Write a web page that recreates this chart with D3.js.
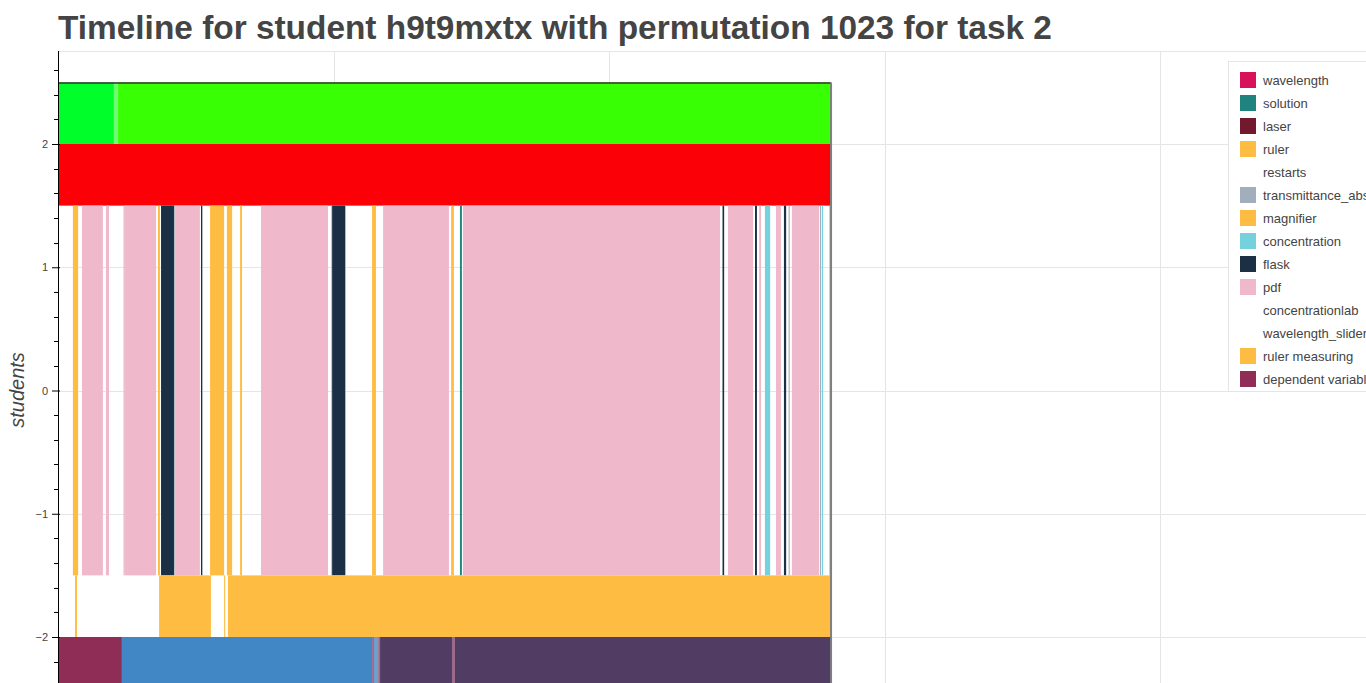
<!DOCTYPE html>
<html>
<head>
<meta charset="utf-8">
<script src="https://cdn.jsdelivr.net/npm/d3@7/dist/d3.min.js"></script>
<style>
  html, body { margin: 0; padding: 0; background: #fff; overflow: hidden; }
  svg { display: block; }
</style>
</head>
<body>
<svg id="chart" width="1366" height="683"></svg>
<script>
// ---------------- DATA ----------------
const titleText = "Timeline for student h9t9mxtx with permutation 1023 for task 2";
const yLabel = "students";
const yTicks = [-2, -1, 0, 1, 2];
const xGridTicks = [0, 1000, 2000, 3000, 4000];

// lanes: [name, y bottom, y top]
const lanes = [
  ["top", 2.0, 2.5],
  ["second", 1.5, 2.0],
  ["actions", -1.5, 1.5],
  ["measuring", -2.0, -1.5],
  ["variables", -2.5, -2.0]
];

// category names and colours
const categories = ["wavelength", "solution", "laser", "ruler", "restarts",
  "transmittance_absorbance", "magnifier", "concentration", "flask", "pdf",
  "concentrationlab", "wavelength_slider", "ruler measuring", "dependent variable",
  "state_a", "state_a_edge", "state_b", "simulation", "independent variable",
  "independent variable 2", "controlled variable", "variable switch"];
const categoryColors = ["#d81159", "#218380", "#73192f", "#ffbc42", "#ffffff",
  "#a3aebc", "#ffbc42", "#73d2de", "#1b2f45", "#efb8cb",
  "#ffffff", "#ffffff", "#ffbc42", "#8f2d56",
  "#00ff2a", "#6dff6d", "#39ff05", "#fb0006", "#4287c5",
  "#6f9ed0", "#513c64", "#9b6a8a"];
const legendCount = 14;

// segments per lane: [start, end, category]
const topSegments = [
  [0, 203, "state_a"], [203, 218, "state_a_edge"], [218, 2806, "state_b"]
];
const secondSegments = [
  [0, 2806, "simulation"]
];
const actionSegments = [
  [54, 73, "magnifier"], [87, 163, "pdf"], [174, 185, "pdf"], [237, 239, "pdf"],
  [240, 356, "pdf"], [363, 370, "magnifier"], [374, 421, "flask"], [421, 424, "transmittance_absorbance"],
  [425, 515, "pdf"], [519, 523, "flask"], [523, 526, "transmittance_absorbance"],
  [552, 603, "magnifier"], [613, 632, "magnifier"], [661, 668, "magnifier"],
  [737, 980, "pdf"], [992, 995, "transmittance_absorbance"], [995, 1042, "flask"],
  [1042, 1045, "transmittance_absorbance"],
  [1140, 1154, "magnifier"], [1180, 1419, "pdf"], [1427, 1437, "magnifier"],
  [1459, 1466, "solution"], [1470, 2403, "pdf"], [2412, 2418, "flask"],
  [2432, 2523, "pdf"], [2530, 2537, "flask"], [2545, 2552, "pdf"],
  [2566, 2585, "concentration"], [2606, 2624, "pdf"], [2635, 2643, "flask"],
  [2652, 2656, "transmittance_absorbance"], [2664, 2763, "pdf"],
  [2766, 2770, "transmittance_absorbance"], [2773, 2777, "concentration"],
  [2800, 2806, "transmittance_absorbance"]
];
const measuringSegments = [
  [62, 69, "ruler measuring"], [367, 555, "ruler measuring"],
  [603, 607, "ruler measuring"], [617, 2806, "ruler measuring"]
];
const variableSegments = [
  [0, 232, "dependent variable"], [232, 1140, "independent variable"],
  [1140, 1147, "variable switch"], [1147, 1162, "independent variable 2"],
  [1162, 1169, "variable switch"], [1169, 2806, "controlled variable"],
  [1430, 1441, "variable switch"]
];
const dataEnd = 2806;

// ---------------- DRAW ----------------
const svg = d3.select("#chart");
const W = 1366, H = 683;
const plotLeft = 58, plotTop = 51, plotRight = 1400;

const x = d3.scaleLinear().domain([0, 1000]).range([58, 333.5]);
const y = d3.scaleLinear().domain([2, -2]).range([144, 637]);
const colorOf = d3.scaleOrdinal().domain(categories).range(categoryColors);

// title
svg.append("text")
  .attr("x", 58).attr("y", 39)
  .attr("font-family", "'Liberation Sans', Arial, Helvetica, sans-serif")
  .attr("font-weight", "bold").attr("font-size", 33.4)
  .attr("fill", "#444").text(titleText);

// plot outline
svg.append("line").attr("x1", plotLeft).attr("x2", plotRight)
  .attr("y1", plotTop + 0.5).attr("y2", plotTop + 0.5)
  .attr("stroke", "#e5e5e5").attr("stroke-width", 1);

// grid
const grid = svg.append("g");
grid.selectAll("line.v").data(xGridTicks).join("line")
  .attr("x1", d => Math.round(x(d)) + 0.5).attr("x2", d => Math.round(x(d)) + 0.5)
  .attr("y1", plotTop).attr("y2", H)
  .attr("stroke", "#e5e5e5").attr("stroke-width", 1);
grid.selectAll("line.h").data(yTicks).join("line")
  .attr("x1", plotLeft).attr("x2", plotRight)
  .attr("y1", d => Math.round(y(d)) + 0.5).attr("y2", d => Math.round(y(d)) + 0.5)
  .attr("stroke", "#e5e5e5").attr("stroke-width", 1);

// bars
svg.append("defs").append("clipPath").attr("id", "plotclip")
  .append("rect").attr("x", plotLeft).attr("y", plotTop).attr("width", plotRight - plotLeft).attr("height", H - plotTop);
const bars = svg.append("g").attr("clip-path", "url(#plotclip)");
const laneData = [topSegments, secondSegments, actionSegments, measuringSegments, variableSegments];
laneData.forEach((segs, i) => {
  const lane = lanes[i];
  bars.append("g").selectAll("rect").data(segs).join("rect")
    .attr("x", d => x(d[0]))
    .attr("width", d => Math.max(0.5, x(d[1]) - x(d[0])))
    .attr("y", y(lane[2]))
    .attr("height", y(lane[1]) - y(lane[2]))
    .attr("fill", d => colorOf(d[2]));
});
// outline of timeline (top and right)
bars.append("line").attr("x1", plotLeft).attr("x2", x(dataEnd))
  .attr("y1", y(lanes[0][2]) + 0.5).attr("y2", y(lanes[0][2]) + 0.5)
  .attr("stroke", "#333").attr("stroke-width", 1.5);
bars.append("line").attr("x1", x(dataEnd)).attr("x2", x(dataEnd))
  .attr("y1", y(lanes[0][2])).attr("y2", H)
  .attr("stroke", "#7f7f7f").attr("stroke-width", 2);

// y axis
const yAxis = d3.axisLeft(y).tickValues(yTicks).tickSize(6).tickPadding(4)
  .tickFormat(d => d < 0 ? "\u2212" + Math.abs(d) : String(d));
const ax = svg.append("g").attr("transform", `translate(${plotLeft},0)`).call(yAxis);
ax.select(".domain").remove();
ax.append("line").attr("x1", 0.5).attr("x2", 0.5).attr("y1", plotTop).attr("y2", H)
  .attr("stroke", "#000").attr("stroke-width", 1);
ax.selectAll(".tick line").attr("stroke", "#000").attr("x2", -6).attr("x1", 2);
ax.selectAll(".tick text").attr("font-family", "'Liberation Sans', Arial, sans-serif")
  .attr("font-size", 11).attr("fill", "#444");
// minor ticks
const minorTicks = d3.range(-12, 14).map(k => k * 0.2).filter(v => Math.abs(v * 5 - Math.round(v) * 5) > 0.01);
ax.append("g").selectAll("line").data(minorTicks.filter(v => y(v) >= plotTop && y(v) <= H)).join("line")
  .attr("x1", -4).attr("x2", 0).attr("y1", d => Math.round(y(d)) + 0.5).attr("y2", d => Math.round(y(d)) + 0.5)
  .attr("stroke", "#000").attr("stroke-width", 1);

// y label
svg.append("text")
  .attr("transform", `translate(24, 390) rotate(-90)`)
  .attr("text-anchor", "middle")
  .attr("font-family", "'Liberation Sans', Arial, sans-serif")
  .attr("font-style", "italic").attr("font-size", 20)
  .attr("fill", "#444").text(yLabel);

// legend
const lg = svg.append("g");
lg.append("rect").attr("x", 1228.5).attr("y", 61.5).attr("width", 200).attr("height", 330)
  .attr("fill", "#fff").attr("stroke", "#e5e5e5").attr("stroke-width", 1);
const items = categories.slice(0, legendCount);
const li = lg.selectAll("g.item").data(items).join("g")
  .attr("class", "item")
  .attr("transform", (d, i) => `translate(1240, ${80 + i * 23})`);
li.append("rect").attr("x", 0).attr("y", -8).attr("width", 16).attr("height", 16)
  .attr("fill", d => colorOf(d));
li.append("text").attr("x", 23).attr("y", 4.5)
  .attr("font-family", "'Liberation Sans', Arial, sans-serif")
  .attr("font-size", 13).attr("fill", "#444").text(d => d);
</script>
</body>
</html>
